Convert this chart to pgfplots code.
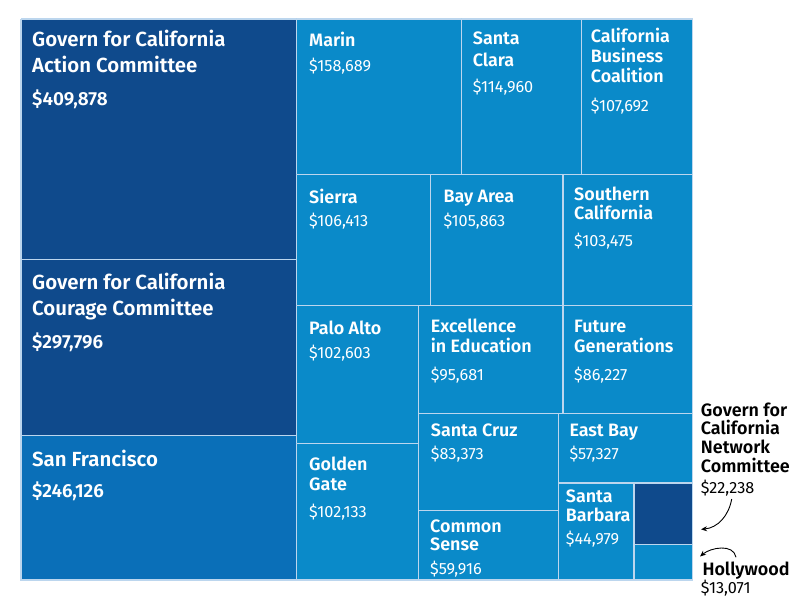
\documentclass[border=0pt]{standalone}
\usepackage{pgfplots}
\pgfplotsset{compat=1.18}
\usepackage{fontspec}
\setmainfont{Fira Sans}[BoldFont={Fira Sans SemiBold}]
\usetikzlibrary{arrows.meta}
\definecolor{dark}{HTML}{0F4A8C}
\definecolor{mid}{HTML}{0A6FB8}
\definecolor{light}{HTML}{0A8AC9}
\definecolor{div}{HTML}{BCD6EE}
\newcommand{\bigname}{\fontsize{20.5}{25.5}\selectfont\bfseries}
\newcommand{\bigval}{\fontsize{19}{22}\selectfont\bfseries}
\newcommand{\smname}{\fontsize{18}{20.5}\selectfont\bfseries}
\newcommand{\smval}{\fontsize{16.3}{19}\selectfont}
\begin{document}
\begin{tikzpicture}
\begin{axis}[
  width=800bp, height=600bp, scale only axis,
  xmin=0, xmax=800, ymin=0, ymax=600, y dir=reverse,
  hide axis, clip=false,
]
\draw[draw=none] (rel axis cs:0,0) rectangle (rel axis cs:1,1);
% rectangles: (x0,y0) (x1,y0) (x1,y1) (x0,y1)
\pgfplotsset{cell/.style={fill=#1, draw=div, line width=1.5bp}}
% Govern for California Action Committee
\addplot[cell=dark] coordinates {(21,19) (296.7,19) (296.7,259.7) (21,259.7) (21,19)};
% Courage Committee
\addplot[cell=dark] coordinates {(21,259.7) (296.7,259.7) (296.7,435.7) (21,435.7) (21,259.7)};
% San Francisco
\addplot[cell=mid] coordinates {(21,435.7) (296.7,435.7) (296.7,580) (21,580) (21,435.7)};
% Marin
\addplot[cell=light] coordinates {(296.7,19) (461.7,19) (461.7,174.7) (296.7,174.7) (296.7,19)};
% Santa Clara
\addplot[cell=light] coordinates {(461.7,19) (581.3,19) (581.3,174.7) (461.7,174.7) (461.7,19)};
% California Business Coalition
\addplot[cell=light] coordinates {(581.3,19) (692.5,19) (692.5,174.7) (581.3,174.7) (581.3,19)};
% Sierra
\addplot[cell=light] coordinates {(296.7,174.7) (430.3,174.7) (430.3,305.7) (296.7,305.7) (296.7,174.7)};
% Bay Area
\addplot[cell=light] coordinates {(430.3,174.7) (563,174.7) (563,305.7) (430.3,305.7) (430.3,174.7)};
% Southern California
\addplot[cell=light] coordinates {(563,174.7) (692.5,174.7) (692.5,305.7) (563,305.7) (563,174.7)};
% Palo Alto
\addplot[cell=light] coordinates {(296.7,305.7) (418.3,305.7) (418.3,443.7) (296.7,443.7) (296.7,305.7)};
% Golden Gate
\addplot[cell=light] coordinates {(296.7,443.7) (418.3,443.7) (418.3,580) (296.7,580) (296.7,443.7)};
% Excellence in Education
\addplot[cell=light] coordinates {(418.3,305.7) (563,305.7) (563,413.7) (418.3,413.7) (418.3,305.7)};
% Future Generations
\addplot[cell=light] coordinates {(563,305.7) (692.5,305.7) (692.5,413.7) (563,413.7) (563,305.7)};
% Santa Cruz
\addplot[cell=light] coordinates {(418.3,413.7) (558.3,413.7) (558.3,510.7) (418.3,510.7) (418.3,413.7)};
% Common Sense
\addplot[cell=light] coordinates {(418.3,510.7) (558.3,510.7) (558.3,580) (418.3,580) (418.3,510.7)};
% East Bay
\addplot[cell=light] coordinates {(558.3,413.7) (692.5,413.7) (692.5,483) (558.3,483) (558.3,413.7)};
% Santa Barbara
\addplot[cell=light] coordinates {(558.3,483) (634,483) (634,580) (558.3,580) (558.3,483)};
% Network Committee
\addplot[cell=dark] coordinates {(634,483) (692.5,483) (692.5,544.7) (634,544.7) (634,483)};
% Hollywood
\addplot[cell=light] coordinates {(634,544.7) (692.5,544.7) (692.5,580) (634,580) (634,544.7)};

\begin{scope}[every node/.style={anchor=base west, inner sep=0pt, text=white}]
% big boxes
\node[font=\bigname] at (axis cs:32,46.7) {Govern for California};
\node[font=\bigname] at (axis cs:32,72.3) {Action Committee};
\node[font=\bigval] at (axis cs:32,106) {\$409,878};
\node[font=\bigname] at (axis cs:32,289.5) {Govern for California};
\node[font=\bigname] at (axis cs:32,315) {Courage Committee};
\node[font=\bigval] at (axis cs:32,348.5) {\$297,796};
\node[font=\bigname] at (axis cs:32,466) {San Francisco};
\node[font=\bigval] at (axis cs:32,497.5) {\$246,126};
% small boxes
\node[font=\smname] at (axis cs:309,47) {Marin};
\node[font=\smval] at (axis cs:309,71.7) {\$158,689};
\node[font=\smname] at (axis cs:472.7,44.3) {Santa};
\node[font=\smname] at (axis cs:472.7,66.7) {Clara};
\node[font=\smval] at (axis cs:472.7,92.3) {\$114,960};
\node[font=\smname] at (axis cs:590.7,42.3) {California};
\node[font=\smname] at (axis cs:590.7,62.7) {Business};
\node[font=\smname] at (axis cs:590.7,82.7) {Coalition};
\node[font=\smval] at (axis cs:590.7,111.7) {\$107,692};
\node[font=\smname] at (axis cs:309,204) {Sierra};
\node[font=\smval] at (axis cs:309,226.7) {\$106,413};
\node[font=\smname] at (axis cs:443.3,202.3) {Bay Area};
\node[font=\smval] at (axis cs:443.3,226.7) {\$105,863};
\node[font=\smname] at (axis cs:574,201) {Southern};
\node[font=\smname] at (axis cs:574,220) {California};
\node[font=\smval] at (axis cs:574,246.7) {\$103,475};
\node[font=\smname] at (axis cs:309,334) {Palo Alto};
\node[font=\smval] at (axis cs:309,358.3) {\$102,603};
\node[font=\smname] at (axis cs:309,470.7) {Golden};
\node[font=\smname] at (axis cs:309,490) {Gate};
\node[font=\smval] at (axis cs:309,517.3) {\$102,133};
\node[font=\smname] at (axis cs:430.7,332.3) {Excellence};
\node[font=\smname] at (axis cs:430.7,352.7) {in Education};
\node[font=\smval] at (axis cs:430.7,380) {\$95,681};
\node[font=\smname] at (axis cs:574,332.3) {Future};
\node[font=\smname] at (axis cs:574,352.7) {Generations};
\node[font=\smval] at (axis cs:574,380) {\$86,227};
\node[font=\smname] at (axis cs:430.7,436.7) {Santa Cruz};
\node[font=\smval] at (axis cs:430.7,459) {\$83,373};
\node[font=\smname] at (axis cs:569.3,436.7) {East Bay};
\node[font=\smval] at (axis cs:569.3,459) {\$57,327};
\node[font=\smname] at (axis cs:430,532.3) {Common};
\node[font=\smname] at (axis cs:430,550.7) {Sense};
\node[font=\smval] at (axis cs:430,574) {\$59,916};
\node[font=\smname] at (axis cs:565.7,502.3) {Santa};
\node[font=\smname] at (axis cs:565.7,521.7) {Barbara};
\node[font=\smval] at (axis cs:565.7,544.3) {\$44,979};
\end{scope}
\begin{scope}[every node/.style={anchor=base west, inner sep=0pt, text=black}]
\node[font=\smname] at (axis cs:700.7,416) {Govern for};
\node[font=\smname] at (axis cs:700.7,434.7) {California};
\node[font=\smname] at (axis cs:700.7,453.3) {Network};
\node[font=\smname] at (axis cs:700.7,472.3) {Committee};
\node[font=\smval] at (axis cs:700.7,493.3) {\$22,238};
\node[font=\smname] at (axis cs:702.3,575.7) {Hollywood};
\node[font=\smval] at (axis cs:700.7,593.3) {\$13,071};
\end{scope}
\draw[-{Stealth[length=6bp,width=5bp]}, line width=0.9bp] (axis cs:731.7,499) to[out=-100, in=5] (axis cs:701,529.3);
\draw[-{Stealth[length=6bp,width=5bp]}, line width=0.9bp] (axis cs:736,557.3) to[out=100, in=40] (axis cs:700,556.5);
\end{axis}
\end{tikzpicture}
\end{document}
